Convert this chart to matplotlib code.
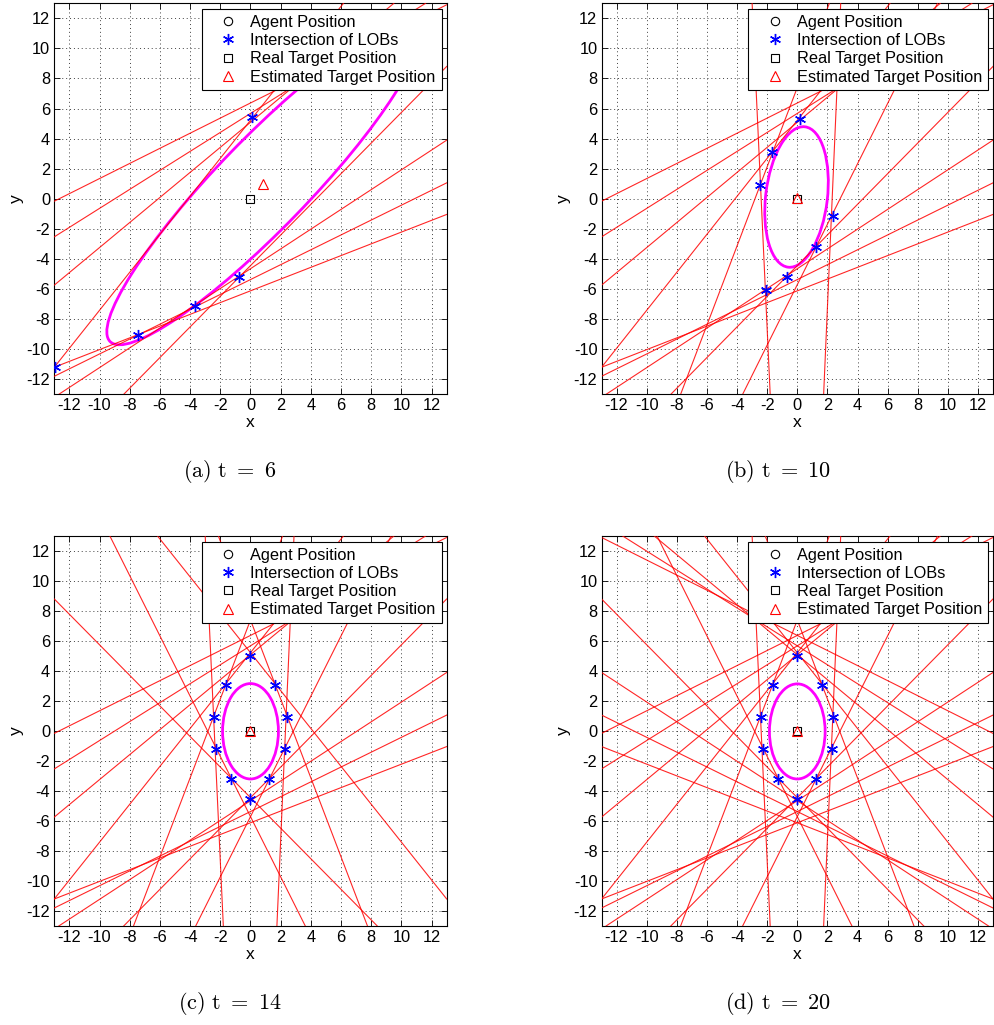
import numpy as np
import matplotlib
matplotlib.use('Agg')
import matplotlib.pyplot as plt
from matplotlib.patches import Ellipse

plt.rcParams['font.family'] = ['Liberation Sans', 'DejaVu Sans']
plt.rcParams['mathtext.fontset'] = 'cm'
plt.rcParams['axes.unicode_minus'] = False

# lines of bearing, each given by two points
# L1..L8, N1, N2, left near-vertical, right near-vertical
lob_x1 = [-13.0, -13.0, -13.0, -13.0, -13.0, -13.0, -12.7, -8.4, -7.75, -3.63, -2.7, 2.6]
lob_y1 = [-0.16, -2.53, -5.74, -11.2, -11.8, -11.2, -13.0, -13.0, -13.0, -13.0, 6.5, 6.5]
lob_x2 = [12.8, 11.6, 9.5, 6.16, 13.0, 13.0, 13.0, 13.0, -2.45, 1.25, -1.8, 1.75]
lob_y2 = [12.8, 13.0, 13.0, 13.0, 1.06, -1.04, 3.9, 8.8, 0.95, -3.2, -13.0, -13.0]

# which lines are drawn in each panel, and which are drawn mirrored (x -> -x)
panel_lobs = [range(0, 8), range(0, 12), range(0, 12), range(0, 12)]
panel_mirror = [[], [], [3, 7, 8, 9], list(range(0, 10))]

# intersections of LOBs
star_x = [[0.1, -0.73, -3.66, -7.43, -12.97],
          [0.15, -1.65, -2.45, -2.05, -0.7, 1.25, 2.35],
          [0.0, -1.64, -2.42, -2.26, -1.26, 0.0, 1.24, 2.28, 2.39, 1.62],
          [0.0, -1.64, -2.44, -2.26, -1.26, 0.0, 1.24, 2.28, 2.39, 1.62]]
star_y = [[5.41, -5.21, -7.1, -9.03, -11.18],
          [5.3, 3.1, 0.95, -6.05, -5.2, -3.2, -1.15],
          [4.99, 3.06, 0.91, -1.2, -3.21, -4.55, -3.21, -1.2, 0.91, 3.06],
          [5.0, 3.07, 0.91, -1.2, -3.22, -4.56, -3.22, -1.2, 0.91, 3.07]]

# estimated target and error ellipse (center, semi axes, angle)
est_x = [0.85, -0.05, 0.0, 0.0]
est_y = [1.0, 0.05, 0.0, 0.0]
ell_cx = [0.85, -0.05, 0.0, 0.0]
ell_cy = [1.0, 0.12, -0.02, -0.03]
ell_a = [14.6, 4.7, 3.18, 3.17]
ell_b = [3.0, 2.05, 1.85, 1.85]
ell_ang = [46.0, 83.2, 90.0, 90.0]

target_x, target_y = 0.0, 0.0
captions = [r'$\mathrm{(a)\ t\ =\ 6}$', r'$\mathrm{(b)\ t\ =\ 10}$',
            r'$\mathrm{(c)\ t\ =\ 14}$', r'$\mathrm{(d)\ t\ =\ 20}$']

fig = plt.figure(figsize=(9.94, 10.25), dpi=100)
rects = [[0.0546, 0.6153, 0.3948, 0.3815], [0.6052, 0.6153, 0.3938, 0.3815],
         [0.0546, 0.0966, 0.3948, 0.3805], [0.6052, 0.0966, 0.3938, 0.3805]]
cap_pos = [(0.231, 0.540), (0.783, 0.540), (0.231, 0.021), (0.783, 0.021)]

ticks = np.arange(-12, 13, 2)
for k in range(4):
    ax = fig.add_axes(rects[k])
    ax.set_xlim(-13, 13)
    ax.set_ylim(-13, 13)

    e = Ellipse((ell_cx[k], ell_cy[k]), 2 * ell_a[k], 2 * ell_b[k], angle=ell_ang[k],
                fill=False, edgecolor='magenta', lw=2.0, zorder=2)
    ax.add_patch(e)

    for i in panel_lobs[k]:
        ax.axline((lob_x1[i], lob_y1[i]), (lob_x2[i], lob_y2[i]),
                  color='red', lw=0.8, alpha=0.85, zorder=3)
    for i in panel_mirror[k]:
        ax.axline((-lob_x1[i], lob_y1[i]), (-lob_x2[i], lob_y2[i]),
                  color='red', lw=0.8, alpha=0.85, zorder=3)

    ax.plot([], [], 'o', color='k', mfc='none', ms=6, mew=0.8, label='Agent Position')
    ax.plot(star_x[k], star_y[k], ls='none', marker=(6, 2, 0), color='blue', ms=8,
            mew=1.0, label='Intersection of LOBs', zorder=5)
    ax.plot(target_x, target_y, 's', color='k', mfc='none', ms=6, mew=0.8,
            label='Real Target Position', zorder=5)
    ax.plot(est_x[k], est_y[k], '^', color='red', mfc='none', ms=7, mew=0.8,
            label='Estimated Target Position', zorder=5)

    ax.set_xticks(ticks)
    ax.set_yticks(ticks)
    ax.tick_params(direction='in', top=True, right=True, labelsize=11.8, length=4,
                   width=0.6, pad=3)
    ax.grid(True, ls=(0, (1, 3)), color='0.25', lw=0.7)
    for s in ax.spines.values():
        s.set_linewidth(0.8)
    ax.set_xlabel('x', fontsize=12.5, labelpad=1)
    ax.set_ylabel('y', fontsize=12.5, labelpad=2)

    leg = ax.legend(loc='upper right', bbox_to_anchor=(0.987, 0.985), borderaxespad=0,
                    prop={'size': 11.8}, fancybox=False, framealpha=1, edgecolor='k',
                    handlelength=2.5, handletextpad=0.1, labelspacing=0.2,
                    borderpad=0.35)
    leg.get_frame().set_linewidth(0.8)
    leg.set_zorder(10)

    fig.text(cap_pos[k][0], cap_pos[k][1], captions[k], ha='center', va='center',
             fontsize=16)

fig.savefig('out.png', dpi=100)
